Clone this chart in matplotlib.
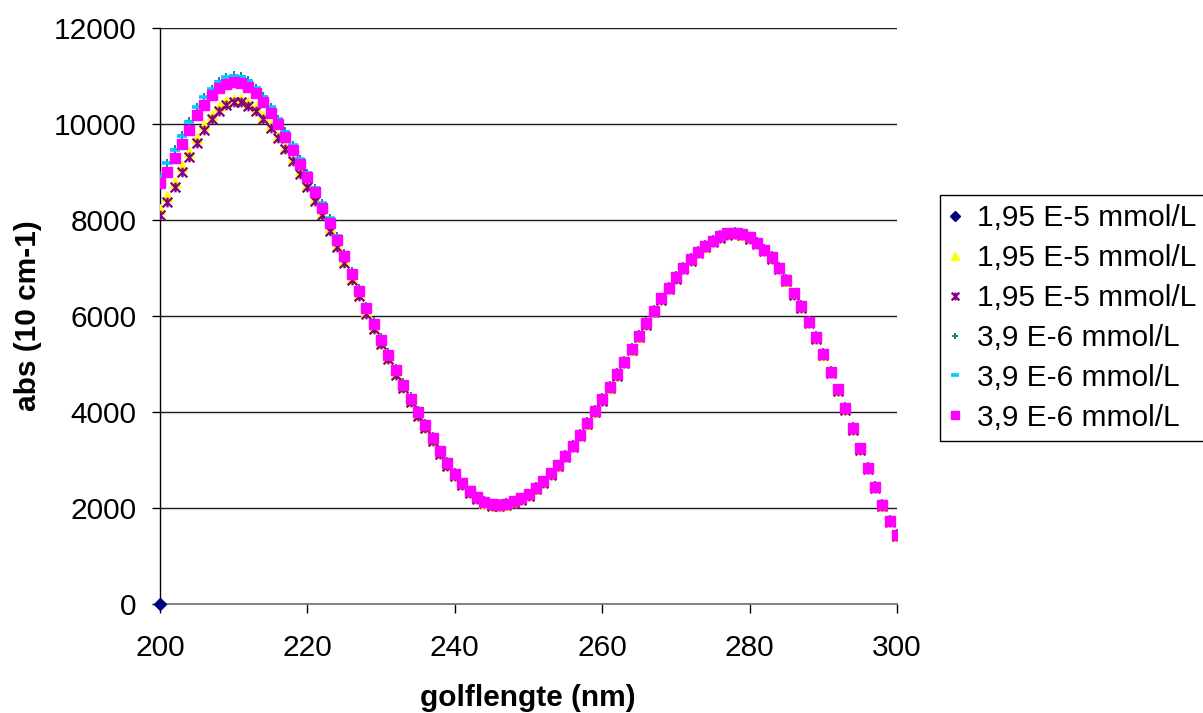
import matplotlib
matplotlib.use("Agg")
import matplotlib.pyplot as plt
from matplotlib.path import Path

plt.rcParams['font.family'] = ['Liberation Sans', 'DejaVu Sans']

# ---------------- data ----------------
wavelength = list(range(200, 301))

labels = ["1,95 E-5 mmol/L", "1,95 E-5 mmol/L", "1,95 E-5 mmol/L",
          "3,9 E-6 mmol/L", "3,9 E-6 mmol/L", "3,9 E-6 mmol/L"]

s1_x = [200]
s1_y = [0]

s2_yellow = [8230, 8490, 8800, 9120, 9420, 9700, 9970, 10190, 10365, 10480,
             10530, 10525, 10450, 10345, 10170, 9980, 9760, 9530, 9285, 9015,
             8745, 8455, 8150, 7825, 7475, 7150, 6795, 6450, 6075, 5765,
             5435, 5125, 4805, 4515, 4230, 3945, 3680, 3410, 3140, 2900,
             2680, 2490, 2325, 2200, 2110, 2065, 2050, 2070, 2125, 2190,
             2275, 2405, 2545, 2705, 2880, 3080, 3285, 3515, 3760, 4005,
             4250, 4510, 4770, 5035, 5300, 5570, 5835, 6095, 6355, 6575,
             6790, 6995, 7170, 7325, 7445, 7555, 7645, 7705, 7720, 7695,
             7625, 7515, 7370, 7210, 6995, 6735, 6455, 6185, 5865, 5540,
             5195, 4825, 4455, 4060, 3645, 3230, 2825, 2430, 2050, 1720,
             1425]

s3_purple = [8104, 8382, 8694, 9007, 9320, 9597, 9875, 10097, 10278, 10396,
             10451, 10451, 10375, 10278, 10105, 9920, 9701, 9472, 9229, 8960,
             8694, 8402, 8104, 7777, 7431, 7110, 6760, 6415, 6045, 5735,
             5410, 5100, 4780, 4495, 4210, 3925, 3660, 3390, 3120, 2880,
             2660, 2470, 2310, 2185, 2095, 2050, 2035, 2055, 2110, 2175,
             2260, 2390, 2530, 2690, 2865, 3065, 3270, 3500, 3745, 3990,
             4235, 4495, 4755, 5020, 5285, 5555, 5820, 6080, 6340, 6560,
             6775, 6980, 7155, 7310, 7430, 7540, 7630, 7690, 7705, 7680,
             7610, 7500, 7355, 7195, 6980, 6720, 6440, 6170, 5850, 5525,
             5180, 4810, 4440, 4045, 3630, 3215, 2810, 2415, 2035, 1705,
             1410]

s4_teal = [8935, 9192, 9470, 9762, 10060, 10358, 10566, 10739, 10892, 10982,
           11017, 10996, 10912, 10760, 10575, 10355, 10110, 9845, 9568, 9268,
           8982, 8675, 8348, 8035, 7667, 7320, 6945, 6590, 6210, 5890,
           5560, 5245, 4915, 4630, 4335, 4040, 3770, 3495, 3215, 2970,
           2745, 2550, 2385, 2255, 2160, 2110, 2095, 2115, 2170, 2235,
           2320, 2450, 2590, 2750, 2925, 3130, 3340, 3570, 3810, 4060,
           4305, 4565, 4825, 5090, 5355, 5625, 5890, 6150, 6405, 6630,
           6845, 7050, 7225, 7380, 7500, 7610, 7700, 7760, 7775, 7745,
           7675, 7570, 7425, 7265, 7050, 6790, 6510, 6240, 5920, 5595,
           5245, 4880, 4510, 4115, 3700, 3280, 2880, 2485, 2100, 1775,
           1475]

s5_cyan = [8924, 9181, 9458, 9750, 10049, 10347, 10556, 10729, 10882, 10972,
           11007, 10986, 10902, 10750, 10565, 10345, 10104, 9840, 9563, 9264,
           8980, 8673, 8347, 8035, 7667, 7320, 6945, 6590, 6210, 5890,
           5560, 5245, 4915, 4630, 4335, 4040, 3770, 3495, 3215, 2970,
           2745, 2550, 2385, 2255, 2160, 2110, 2095, 2115, 2170, 2235,
           2320, 2450, 2590, 2750, 2925, 3130, 3340, 3570, 3810, 4060,
           4305, 4565, 4825, 5090, 5355, 5625, 5890, 6150, 6405, 6630,
           6845, 7050, 7225, 7380, 7500, 7610, 7700, 7760, 7775, 7745,
           7675, 7570, 7425, 7265, 7050, 6790, 6510, 6240, 5920, 5595,
           5245, 4880, 4510, 4115, 3700, 3280, 2880, 2485, 2100, 1775,
           1475]

s6_magenta = [8765, 9007, 9285, 9583, 9880, 10188, 10396, 10604, 10743, 10840,
              10872, 10855, 10777, 10638, 10450, 10236, 10007, 9736, 9458, 9163,
              8895, 8583, 8260, 7944, 7583, 7240, 6880, 6515, 6160, 5825,
              5500, 5180, 4865, 4570, 4280, 3995, 3722, 3450, 3180, 2935,
              2710, 2514, 2350, 2223, 2131, 2083, 2070, 2090, 2146, 2210,
              2295, 2424, 2562, 2722, 2896, 3090, 3300, 3530, 3775, 4020,
              4265, 4528, 4785, 5048, 5313, 5583, 5848, 6111, 6368, 6590,
              6806, 7010, 7185, 7340, 7460, 7570, 7660, 7722, 7736, 7708,
              7639, 7530, 7385, 7225, 7010, 6750, 6472, 6200, 5882, 5556,
              5208, 4840, 4472, 4076, 3660, 3243, 2840, 2444, 2063, 1736,
              1438]

x_ticks = [200, 220, 240, 260, 280, 300]
y_ticks = [0, 2000, 4000, 6000, 8000, 10000, 12000]

# ---------------- figure ----------------
W, H = 1203, 713
fig = plt.figure(figsize=(W / 100, H / 100), dpi=100)
ax = fig.add_axes([160 / W, 1 - 604 / H, (897 - 160) / W, (604 - 28) / H])

FS = 21.5

star = Path([(-1, -1), (1, 1), (-1, 1), (1, -1), (0, -1), (0, 1)],
            [Path.MOVETO, Path.LINETO, Path.MOVETO, Path.LINETO, Path.MOVETO, Path.LINETO])

ax.plot(s1_x, s1_y, ls='none', marker='D', ms=6.5, color='#000080', clip_on=False,
        label=labels[0], zorder=3)
ax.plot(wavelength, s2_yellow, ls='none', marker='^', ms=7.5, color='#FFFF00',
        mec='#FFFF00', label=labels[1], zorder=3)
ax.plot(wavelength, s3_purple, ls='none', marker=star, ms=7, mew=1.6, color='#800080',
        mfc='none', mec='#800080', label=labels[2], zorder=3)
ax.plot(wavelength, s4_teal, ls='none', marker='+', ms=6, mew=1.3, color='#008080',
        label=labels[3], zorder=3)
ax.plot(wavelength, s5_cyan, ls='none', marker='_', ms=7.5, mew=2.6, color='#00CCFF',
        label=labels[4], zorder=3)
ax.plot(wavelength, s6_magenta, ls='none', marker='s', ms=7, color='#FF00FF',
        mec='#FF00FF', label=labels[5], zorder=3)

ax.set_xlim(200, 300)
ax.set_ylim(0, 12000)
ax.set_xticks(x_ticks)
ax.set_yticks(y_ticks)
ax.set_xticklabels([str(v) for v in x_ticks])
ax.set_yticklabels([str(v) for v in y_ticks])

ax.yaxis.grid(True, color='#1a1a1a', lw=1.0)
ax.set_axisbelow(True)

for side in ('top', 'right'):
    ax.spines[side].set_visible(False)
ax.spines['left'].set_color('black')
ax.spines['left'].set_linewidth(1.0)
ax.spines['bottom'].set_color('#808080')
ax.spines['bottom'].set_linewidth(1.4)

ax.tick_params(axis='y', direction='out', length=6, width=1, color='black',
               pad=11, labelsize=FS)
ax.tick_params(axis='x', direction='out', length=6.5, width=1, color='black',
               pad=15, labelsize=FS)

fig.text(528 / W, 1 - 706 / H, 'golflengte (nm)', ha='center', va='baseline',
         fontsize=FS, fontweight='bold')
fig.text(28 / W, 1 - 316 / H, 'abs (10 cm-1)', ha='center', va='center',
         rotation=90, fontsize=FS, fontweight='bold')

leg = ax.legend(loc='center left', bbox_to_anchor=(940 / W, 1 - 318 / H),
                bbox_transform=fig.transFigure, borderaxespad=0, fontsize=FS,
                frameon=True, fancybox=False, edgecolor='black', framealpha=1,
                numpoints=1, handlelength=0.4, handletextpad=0.55,
                labelspacing=0.40, borderpad=0.3, markerscale=0.8)
leg.get_frame().set_linewidth(1.0)

fig.savefig('out.png', dpi=100)
